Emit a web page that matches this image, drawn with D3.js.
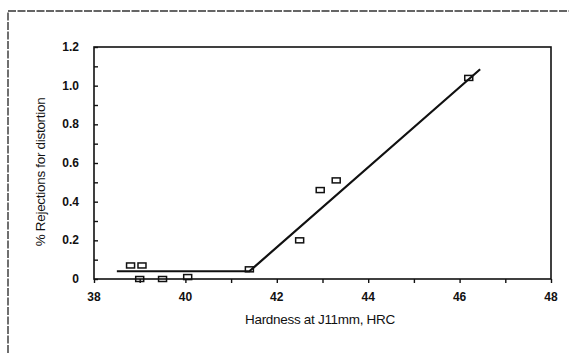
<!DOCTYPE html>
<html>
<head>
<meta charset="utf-8">
<script src="https://cdn.jsdelivr.net/npm/d3@7"></script>
<style>
  body { margin: 0; background: #fff; }
  text { font-family: "Liberation Sans", Arial, sans-serif; fill: #111; }
</style>
</head>
<body>
<svg id="chart" width="569" height="353"></svg>
<script>
// measured points (hardness vs % rejections)
const hardness = [38.8, 39.05, 39.0, 39.5, 40.05, 41.4, 42.5, 42.95, 43.3, 46.2];
const rejections = [0.07, 0.07, 0.0, 0.0, 0.01, 0.05, 0.2, 0.46, 0.51, 1.04];

// fitted trend line
const fitX = [38.5, 41.4, 46.45];
const fitY = [0.04, 0.04, 1.085];

const xTicks = [38, 40, 42, 44, 46, 48];
const yTicks = [0, 0.2, 0.4, 0.6, 0.8, 1.0, 1.2];

const svg = d3.select('#chart');
const m = { left: 94, right: 551, top: 47, bottom: 279 };

const x = d3.scaleLinear().domain([38, 48]).range([m.left, m.right]);
const y = d3.scaleLinear().domain([0, 1.2]).range([m.bottom, m.top]);

// outer page frame (only top and left visible)
svg.append('path')
  .attr('d', `M8,353 L8,11 L569,11`)
  .attr('fill', 'none')
  .attr('stroke', '#333')
  .attr('stroke-width', 1.4)
  .attr('stroke-dasharray', '8,1.5');

// plot box
svg.append('rect')
  .attr('x', m.left).attr('y', m.top)
  .attr('width', m.right - m.left).attr('height', m.bottom - m.top)
  .attr('fill', 'none')
  .attr('stroke', '#111')
  .attr('stroke-width', 1.6);

// x axis
const xAxis = svg.append('g')
  .attr('transform', `translate(0,${m.bottom})`)
  .call(d3.axisBottom(x).tickValues(d3.range(38, 48.01, 1)).tickSize(4).tickFormat(''));
xAxis.select('.domain').remove();
xAxis.selectAll('line').attr('stroke', '#111').attr('stroke-width', 1.4);

svg.append('g').selectAll('text')
  .data(xTicks)
  .join('text')
  .attr('x', d => x(d))
  .attr('y', 301)
  .attr('text-anchor', 'middle')
  .attr('font-size', 12)
  .attr('font-weight', 'bold')
  .text(d => d);

// y axis
const yAxis = svg.append('g')
  .attr('transform', `translate(${m.left},0)`)
  .call(d3.axisRight(y).tickValues(d3.range(0, 1.201, 0.1)).tickSize(4).tickFormat(''));
yAxis.select('.domain').remove();
yAxis.selectAll('line').attr('stroke', '#111').attr('stroke-width', 1.4);

svg.append('g').selectAll('text')
  .data(yTicks)
  .join('text')
  .attr('x', 79)
  .attr('y', d => y(d) + 4)
  .attr('text-anchor', 'end')
  .attr('font-size', 12)
  .attr('font-weight', 'bold')
  .text(d => d === 0 ? '0' : d.toFixed(1));

// axis titles
svg.append('text')
  .attr('x', 320).attr('y', 324)
  .attr('text-anchor', 'middle')
  .attr('font-size', 13.5)
  .attr('letter-spacing', -0.3)
  .text('Hardness at J11mm, HRC');

svg.append('text')
  .attr('transform', 'translate(45,172) rotate(-90)')
  .attr('text-anchor', 'middle')
  .attr('font-size', 13.5)
  .attr('letter-spacing', -0.3)
  .text('% Rejections for distortion');

// trend line
svg.append('path')
  .datum(fitX.map((d, i) => [d, fitY[i]]))
  .attr('d', d3.line().x(d => x(d[0])).y(d => y(d[1])))
  .attr('fill', 'none')
  .attr('stroke', '#111')
  .attr('stroke-width', 2.2);

// data markers: small open squares
svg.append('g').selectAll('rect')
  .data(hardness.map((d, i) => [d, rejections[i]]))
  .join('rect')
  .attr('x', d => x(d[0]) - 4)
  .attr('y', d => y(d[1]) - 2.5)
  .attr('width', 8)
  .attr('height', 5)
  .attr('fill', 'none')
  .attr('stroke', '#111')
  .attr('stroke-width', 1.5);
</script>
</body>
</html>
